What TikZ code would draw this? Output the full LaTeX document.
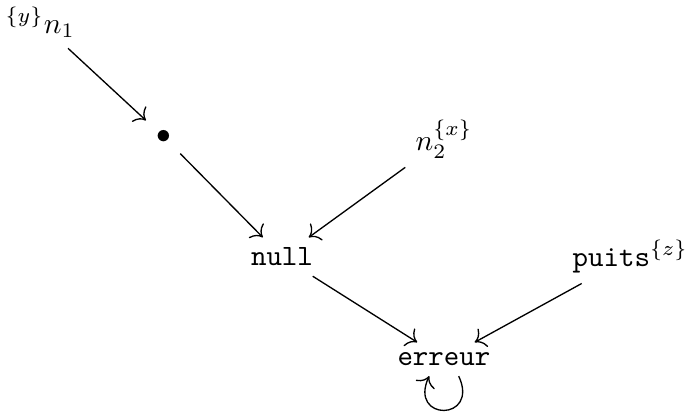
\documentclass[tikz,border=0pt]{standalone}
\usepackage{amsmath}
\usetikzlibrary{arrows.meta}
\tikzset{
  etat/.style={inner sep=3.3pt},
  pt/.style={etat},
  arr/.style={-{To[scale=1.3]}, line width=0.45pt},
  every picture/.append style={line join=round}
}
\begin{document}
\begin{tikzpicture}
  \useasboundingbox (0,0) rectangle (8.21,-4.92);
  \node[etat] (n1) at (0.48,-0.27) {${}^{\{y\}}n_1$};
  \node[pt] (dot) at (1.95,-1.63) {$\bullet$};
  \node[etat] (n2) at (5.29,-1.66) {$n_2^{\{x\}}$};
  \node[etat] (null) at (3.36,-3.06) {\texttt{null}};
  \node[etat] (puits) at (7.51,-3.06) {\texttt{puits}$^{\{z\}}$};
  \node[etat] (err) at (5.29,-4.28) {\texttt{erreur}};
  \draw[arr] (n1) -- (dot);
  \draw[arr] (dot) -- (null);
  \draw[arr] (n2) -- (null);
  \draw[arr] (null) -- (err);
  \draw[arr] (puits) -- (err);
  % boucle sur erreur
  \draw[arr] ([xshift=5pt]err.south) .. controls +(-65:0.6) and +(-115:0.6) .. ([xshift=-5pt]err.south);
\end{tikzpicture}
\end{document}
